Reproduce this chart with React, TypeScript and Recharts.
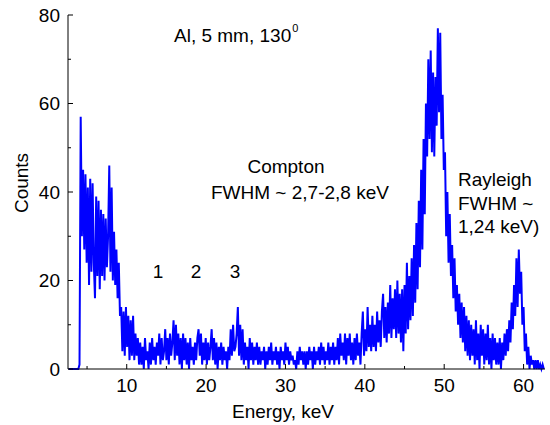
import React from 'react';
import { LineChart, Line, XAxis, YAxis } from 'recharts';

// channel calibration of the spectrum
const E_START = 2.7;
const E_STEP = 0.15;

// counts per channel, 20 channels (3 keV) per row
const counts = [
  0, 0, 0, 0, 0, 0, 0, 0, 0, 1, 57, 30, 45, 27, 44, 24, 41, 19, 43, 22,
  42, 24, 16, 39, 21, 38, 18, 36, 21, 35, 20, 34, 23, 30, 46, 22, 41, 20, 31, 19,
  27, 16, 24, 12, 14, 4, 13, 3, 14, 5, 12, 2, 11, 3, 12, 2, 8, 3, 7, 1,
  6, 1, 5, 0, 7, 2, 4, 0, 6, 1, 7, 2, 5, 1, 6, 3, 8, 1, 7, 2,
  4, 9, 2, 7, 1, 8, 3, 6, 11, 2, 10, 3, 8, 1, 7, 0, 8, 2, 7, 1,
  6, 0, 7, 2, 5, 1, 6, 2, 7, 9, 3, 8, 1, 6, 2, 7, 1, 6, 2, 5,
  9, 2, 7, 1, 6, 0, 5, 2, 6, 1, 5, 2, 4, 0, 5, 2, 9, 3, 10, 4,
  5, 8, 14, 3, 10, 2, 9, 1, 6, 2, 5, 0, 7, 2, 6, 1, 5, 2, 6, 1,
  5, 1, 4, 2, 5, 0, 4, 1, 5, 2, 6, 1, 4, 2, 5, 1, 4, 0, 5, 2,
  4, 1, 6, 2, 5, 1, 4, 2, 3, 1, 2, 0, 4, 1, 5, 2, 4, 1, 4, 0,
  4, 1, 5, 2, 4, 0, 5, 1, 4, 2, 5, 1, 6, 2, 5, 1, 4, 2, 6, 1,
  5, 2, 6, 1, 5, 2, 7, 1, 8, 3, 6, 2, 8, 1, 7, 3, 8, 2, 6, 1,
  7, 2, 8, 3, 6, 1, 8, 13, 3, 9, 4, 14, 5, 10, 4, 12, 5, 10, 4, 13,
  6, 11, 5, 13, 17, 7, 14, 6, 15, 8, 19, 7, 16, 9, 18, 7, 20, 8, 17, 6,
  18, 4, 19, 8, 24, 9, 21, 11, 25, 12, 28, 15, 33, 18, 38, 23, 45, 27, 52, 35,
  60, 48, 70, 52, 72, 49, 67, 48, 66, 55, 77, 58, 76, 52, 62, 45, 49, 30, 40, 24,
  35, 21, 28, 16, 25, 13, 19, 10, 17, 7, 15, 6, 14, 4, 12, 3, 11, 2, 10, 3,
  9, 1, 11, 2, 8, 0, 10, 3, 9, 1, 8, 2, 10, 1, 7, 0, 8, 2, 7, 1,
  6, 1, 7, 0, 6, 2, 8, 3, 9, 4, 11, 6, 15, 9, 19, 12, 25, 14, 27, 17,
  22, 10, 14, 4, 8, 1, 5, 0, 3, 1, 2, 0, 2, 0, 2, 0, 1, 0, 1, 0,
];

const xTicks = [5, 10, 15, 20, 25, 30, 35, 40, 45, 50, 55, 60];
const yTicks = [0, 10, 20, 30, 40, 50, 60, 70, 80];

const data = counts.map((c, i) => ({
  energy: +(E_START + i * E_STEP).toFixed(2),
  counts: c,
}));

const FONT = '"Liberation Sans", Arial, sans-serif';

const XTick = (props: any) => {
  const { x, y, payload } = props;
  const major = payload.value % 10 === 0;
  return (
    <g>
      <line x1={x} y1={y} x2={x} y2={y - (major ? 5 : 3)} stroke="#000" />
      {major && (
        <text x={x} y={y + 23} textAnchor="middle" fontSize={19} fontFamily={FONT} fill="#000">
          {payload.value}
        </text>
      )}
    </g>
  );
};

const YTick = (props: any) => {
  const { x, y, payload } = props;
  const major = payload.value % 20 === 0;
  return (
    <g>
      <line x1={x} y1={y} x2={x + (major ? 5 : 3)} y2={y} stroke="#000" />
      {major && (
        <text x={x - 8} y={y} dy="0.35em" textAnchor="end" fontSize={19} fontFamily={FONT} fill="#000">
          {payload.value}
        </text>
      )}
    </g>
  );
};

export default function App() {
  const txt = { fontSize: 19, fontFamily: FONT, fill: '#000' };
  return (
    <div style={{ position: 'absolute', left: 0, top: 0, width: 550, height: 425, background: '#fff' }}>
      <LineChart width={550} height={425} data={data} margin={{ top: 15, right: 5, left: 0, bottom: 0 }}>
        <XAxis
          dataKey="energy"
          type="number"
          domain={[2.6, 62.7]}
          allowDataOverflow
          ticks={xTicks}
          interval={0}
          height={56}
          tickSize={0}
          tickMargin={0}
          tickLine={false}
          tick={<XTick />}
          axisLine={{ stroke: '#000' }}
        />
        <YAxis
          type="number"
          domain={[0, 80]}
          ticks={yTicks}
          interval={0}
          width={68}
          tickSize={0}
          tickMargin={0}
          tickLine={false}
          tick={<YTick />}
          axisLine={{ stroke: '#000' }}
        />
        <Line
          dataKey="counts"
          type="linear"
          stroke="#0000ff"
          strokeWidth={2}
          dot={false}
          isAnimationActive={false}
        />
      </LineChart>
      <svg width={550} height={425} style={{ position: 'absolute', left: 0, top: 0, pointerEvents: 'none' }}>
        <text x={174} y={42} {...txt}>
          Al, 5 mm, 130
          <tspan dx={1} dy={-10} fontSize={11}>0</tspan>
        </text>
        <text x={286} y={173} textAnchor="middle" {...txt}>Compton</text>
        <text x={211} y={199} {...txt}>FWHM ~ 2,7-2,8 keV</text>
        <text x={458} y={186} {...txt}>Rayleigh</text>
        <text x={458} y={210} {...txt}>FWHM ~</text>
        <text x={458} y={233} {...txt}>1,24 keV)</text>
        <text x={158} y={278} textAnchor="middle" {...txt}>1</text>
        <text x={196} y={278} textAnchor="middle" {...txt}>2</text>
        <text x={235} y={278} textAnchor="middle" {...txt}>3</text>
        <text x={283} y={418} textAnchor="middle" {...txt}>Energy, keV</text>
        <text x={28} y={183} textAnchor="middle" transform="rotate(-90 28 183)" {...txt}>Counts</text>
      </svg>
    </div>
  );
}
